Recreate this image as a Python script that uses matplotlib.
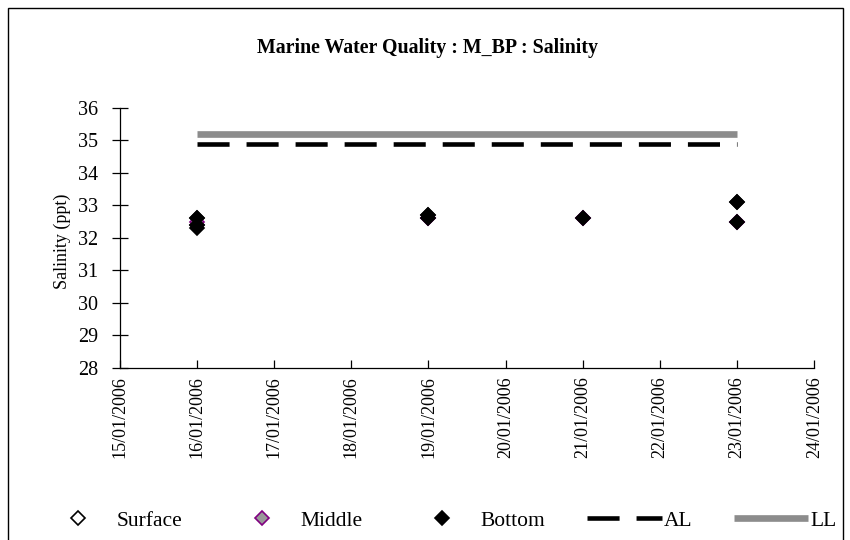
import matplotlib
matplotlib.use("Agg")
import matplotlib.pyplot as plt
import matplotlib.dates as mdates
from matplotlib.patches import Rectangle
from datetime import datetime

# sampling dates and salinity readings (ppt) per depth
surface_dates = ["16/01/2006", "16/01/2006", "19/01/2006", "19/01/2006",
                 "21/01/2006", "23/01/2006", "23/01/2006"]
surface_vals = [32.4, 32.6, 32.6, 32.7, 32.6, 32.5, 33.1]

middle_dates = ["16/01/2006", "19/01/2006", "21/01/2006", "23/01/2006"]
middle_vals = [32.5, 32.6, 32.6, 32.5]

bottom_dates = ["16/01/2006", "16/01/2006", "16/01/2006", "19/01/2006",
                "19/01/2006", "21/01/2006", "23/01/2006", "23/01/2006"]
bottom_vals = [32.3, 32.4, 32.6, 32.6, 32.7, 32.6, 32.5, 33.1]

limit_dates = ["16/01/2006", "23/01/2006"]
al_vals = [34.9, 34.9]
ll_vals = [35.2, 35.2]

x_range = ["15/01/2006", "24/01/2006"]
y_range = [28, 36]


def to_dt(lst):
    return [datetime.strptime(s, "%d/%m/%Y") for s in lst]


plt.rcParams["font.family"] = ["Liberation Serif", "DejaVu Serif"]

fig = plt.figure(figsize=(8.5, 5.4), dpi=100)
ax = fig.add_axes([0.141, 0.319, 0.817, 0.481])

ax.plot(to_dt(surface_dates), surface_vals, linestyle="none", marker="D",
        ms=6.8, mfc="white", mec="black", mew=1.2, label="Surface")
ax.plot(to_dt(middle_dates), middle_vals, linestyle="none", marker="D",
        ms=6.8, mfc="#999999", mec="#800080", mew=1.2, label="Middle")
ax.plot(to_dt(bottom_dates), bottom_vals, linestyle="none", marker="D",
        ms=6.8, mfc="black", mec="black", mew=1.2, label="Bottom")
ax.plot(to_dt(limit_dates), al_vals, color="black", lw=3.3,
        dashes=(7, 3.7), solid_capstyle="butt", dash_capstyle="butt", label="AL")
ax.plot(to_dt(limit_dates), ll_vals, color="#8c8c8c", lw=4.8,
        solid_capstyle="butt", label="LL")

ax.set_xlim(to_dt(x_range))
ax.set_ylim(y_range)
ax.set_yticks(range(28, 37))
ax.xaxis.set_major_locator(mdates.DayLocator())
ax.xaxis.set_major_formatter(mdates.DateFormatter("%d/%m/%Y"))

for s in ["top", "right"]:
    ax.spines[s].set_visible(False)
for s in ["left", "bottom"]:
    ax.spines[s].set_linewidth(0.9)

ax.tick_params(axis="y", direction="inout", length=11, width=0.9,
               labelsize=14.5, pad=10)
ax.tick_params(axis="x", direction="in", length=6, width=0.9,
               labelsize=13, pad=6)
for lbl in ax.get_xticklabels():
    lbl.set_rotation(90)
    lbl.set_ha("center")
    lbl.set_va("top")

fig.text(0.073, 0.554, "Salinity (ppt)", rotation=90, ha="center",
         va="center", fontsize=13)
fig.text(0.503, 0.911, "Marine Water Quality : M_BP : Salinity",
         ha="center", va="center", fontsize=14.3, fontweight="bold")

fig.legend(loc="center", bbox_to_anchor=(0.516, 0.036), ncol=5, frameon=False,
           fontsize=15.5, handlelength=3.45, handletextpad=0.1,
           columnspacing=1.93, numpoints=1)

# outer chart frame
fig.patches.append(Rectangle((8 / 850, -0.05), 835 / 850, 1.05 - 8 / 540,
                             transform=fig.transFigure, fill=False,
                             edgecolor="black", lw=1))

fig.savefig("out.png", dpi=100)
